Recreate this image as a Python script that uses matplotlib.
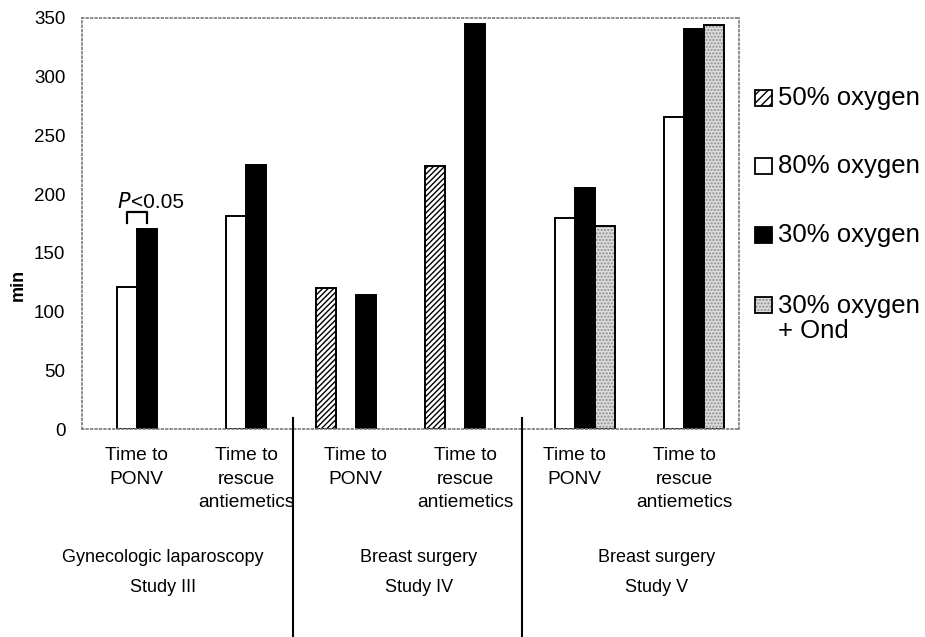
import numpy as np
import matplotlib
matplotlib.use('Agg')
import matplotlib.pyplot as plt
from matplotlib.patches import Rectangle
from matplotlib.lines import Line2D

plt.rcParams['font.family'] = ['Liberation Sans', 'DejaVu Sans']
plt.rcParams['hatch.linewidth'] = 1.0

# data (minutes), nan = series not used in that study
categories = ['Time to\nPONV', 'Time to\nrescue\nantiemetics',
              'Time to\nPONV', 'Time to\nrescue\nantiemetics',
              'Time to\nPONV', 'Time to\nrescue\nantiemetics']
oxy50 = [np.nan, np.nan, 120, 224, np.nan, np.nan]
oxy80 = [121, 181, np.nan, np.nan, 180, 266]
oxy30 = [170, 225, 114, 345, 205, 341]
oxy30_ond = [np.nan, np.nan, np.nan, np.nan, 173, 344]
series_names = ['50% oxygen', '80% oxygen', '30% oxygen', '30% oxygen\n+ Ond']
studies = ['Gynecologic laparoscopy\nStudy III', 'Breast surgery\nStudy IV', 'Breast surgery\nStudy V']
yticks = [0, 50, 100, 150, 200, 250, 300, 350]

W, H = 925, 637
fig = plt.figure(figsize=(W / 100, H / 100), dpi=100)
ax = fig.add_axes([82 / W, 1 - 429 / H, (739 - 82) / W, (429 - 18) / H])

x = np.arange(len(categories))
w = 0.1823
lw = 1.4

# 50% oxygen: hatched
ax.bar(x - 1.5 * w, oxy50, w, facecolor='white', edgecolor='black', hatch='//////', linewidth=lw)
# 80% oxygen: white
ax.bar(x - 0.5 * w, oxy80, w, facecolor='white', edgecolor='black', linewidth=lw)
# 30% oxygen: black
ax.bar(x + 0.5 * w, oxy30, w, facecolor='black', edgecolor='black', linewidth=lw)
# 30% oxygen + Ond: stippled grey, hatch layer then outline
ax.bar(x + 1.5 * w, oxy30_ond, w, facecolor='#dcdcdc', edgecolor='#8c8c8c', hatch='.....', linewidth=0)
ax.bar(x + 1.5 * w, oxy30_ond, w, facecolor='none', edgecolor='black', linewidth=lw)

ax.set_xlim(-0.5, 5.5)
ax.set_ylim(0, 350)
ax.set_yticks(yticks)
ax.set_yticklabels([str(t) for t in yticks], fontsize=13.5)
ax.set_xticks(x)
ax.set_xticklabels(categories, fontsize=13.8, linespacing=1.5)
ax.tick_params(axis='both', length=0)
ax.tick_params(axis='y', pad=12)
ax.tick_params(axis='x', pad=13)
for s in ax.spines.values():
    s.set_linestyle(':')
    s.set_color('#7a7a7a')
    s.set_linewidth(1.2)

fig.text(18 / W, 1 - 285 / H, 'min', rotation=90, fontsize=13, fontweight='bold',
         ha='center', va='center')

# significance bracket for study III, time to PONV
x0 = x[0] - 0.5 * w
x1 = x[0] + 0.5 * w
ax.plot([x0, x0, x1, x1], [175, 185, 185, 175], color='black', lw=1.6)
ax.text(x[0] - 0.05, 193, '$\\mathit{P}$', fontsize=15, ha='right', va='center')
ax.text(x[0] - 0.05, 193, '<0.05', fontsize=15, ha='left', va='center')

# separators between studies
for xp in [292.5, 521.7]:
    fig.add_artist(Line2D([xp / W, xp / W], [1 - 418 / H, 0], color='black', lw=1.5))

# study labels
for xc, txt in zip([163, 419, 657], studies):
    fig.text(xc / W, 1 - 572 / H, txt, fontsize=13, ha='center', va='center', linespacing=2.0)

# legend drawn by hand
leg_y = [98, 166, 235, 305]
bw, bh = 17, 16
for i, (yc, name) in enumerate(zip(leg_y, series_names)):
    rect_xy = (755 / W, 1 - (yc + bh / 2) / H)
    if i == 0:
        fig.add_artist(Rectangle(rect_xy, bw / W, bh / H, facecolor='white', edgecolor='black',
                                 hatch='////', lw=1.3))
    elif i == 1:
        fig.add_artist(Rectangle(rect_xy, bw / W, bh / H, facecolor='white', edgecolor='black', lw=1.3))
    elif i == 2:
        fig.add_artist(Rectangle(rect_xy, bw / W, bh / H, facecolor='black', edgecolor='black', lw=1.3))
    else:
        fig.add_artist(Rectangle(rect_xy, bw / W, bh / H, facecolor='#dcdcdc', edgecolor='#8c8c8c',
                                 hatch='.....', lw=0))
        fig.add_artist(Rectangle(rect_xy, bw / W, bh / H, facecolor='none', edgecolor='black', lw=1.3))
    ty = yc + 13.5 if '\n' in name else yc
    fig.text(778 / W, 1 - ty / H, name, fontsize=18.5, ha='left', va='center', linespacing=1.05)

fig.savefig('out.png', dpi=100)
